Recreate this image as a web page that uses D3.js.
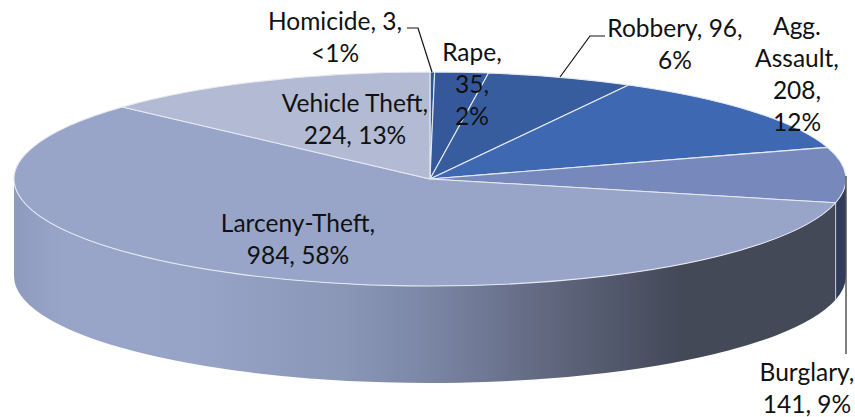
<!DOCTYPE html>
<html><head><meta charset="utf-8">
<script src="https://cdn.jsdelivr.net/npm/d3@7/dist/d3.min.js"></script>
<style>html,body{margin:0;padding:0;background:#fff}svg{display:block}text{font-family:Lato,"Open Sans",sans-serif;fill:#111}</style>
</head><body><svg id="c" width="855" height="417"></svg>
<script>
const categories = ["Homicide","Rape","Robbery","Agg. Assault","Burglary","Larceny-Theft","Vehicle Theft"];
const values = [3,35,96,208,141,984,224];
const labelLines = [["Homicide, 3,","<1%"],["Rape,","35,","2%"],["Robbery, 96,","6%"],["Agg.","Assault,","208,","12%"],["Burglary,","141, 9%"],["Larceny-Theft,","984, 58%"],["Vehicle Theft,","224, 13%"]];
const topColors = ["#2f5597","#35589b","#385d9f","#3e69b2","#7688bc","#98a5c9","#b2bbd3"];
const wallColor = "#303c5a";

const W=855,H=417,cx=430,cy=179,rx=416,ry=107,depth=97,fontSize=24.5,lineH=32;
// label centres (first baseline y) – layout only
const labelPos=[[335,30],[472,61],[675,37],[797,35],[807,381],[298,232],[355,112]];
const leaders=[[[407,28],[418,28],[432,72]],[[605,36],[590,36],[560,77]],[[846,176],[846,354]]];

const svg=d3.select("#c");
const defs=svg.append("defs");
const gr=defs.append("linearGradient").attr("id","wall").attr("gradientUnits","userSpaceOnUse")
  .attr("x1",cx-rx).attr("x2",cx+rx).attr("y1",0).attr("y2",0);
[[0,"#8e9bbe"],[.06,"#98a5c9"],[.22,"#97a4c8"],[.40,"#8a96b6"],[.50,"#7b86a5"],[.65,"#5f667d"],[.80,"#444958"],[1,"#444958"]]
 .forEach(([o,c])=>gr.append("stop").attr("offset",o).attr("stop-color",c));

const arcs=d3.pie().sort(null).value(d=>d).startAngle(0).endAngle(2*Math.PI)(values);
const px=a=>cx+rx*Math.sin(a), py=a=>cy-ry*Math.cos(a);
function sector(a0,a1){
  const p=d3.path();p.moveTo(cx,cy);p.lineTo(px(a0),py(a0));
  return p.toString()+`A${rx},${ry} 0 ${a1-a0>Math.PI?1:0} 1 ${px(a1)},${py(a1)}Z`;
}
function wall(a0,a1){
  a0=Math.max(a0,Math.PI/2);a1=Math.min(a1,3*Math.PI/2);
  if(a1<=a0)return null;
  return `M${px(a0)},${py(a0)}A${rx},${ry} 0 0 1 ${px(a1)},${py(a1)}L${px(a1)},${py(a1)+depth}A${rx},${ry} 0 0 0 ${px(a0)},${py(a0)+depth}Z`;
}
// walls
svg.append("g").selectAll("path").data(arcs.filter(d=>wall(d.startAngle,d.endAngle))).join("path")
  .attr("d",d=>wall(d.startAngle,d.endAngle))
  .attr("fill",d=>d.index===4?wallColor:"url(#wall)");
// seam on wall between Burglary and Larceny
const seam=arcs[4].endAngle;
svg.append("line").attr("x1",px(seam)).attr("x2",px(seam)).attr("y1",py(seam)).attr("y2",py(seam)+depth)
  .attr("stroke","#c9ced9").attr("stroke-width",1);
// top faces
svg.append("g").selectAll("path").data(arcs).join("path")
  .attr("d",d=>sector(d.startAngle,d.endAngle))
  .attr("fill",(d,i)=>topColors[i]).attr("stroke","#e6e9f2").attr("stroke-width",1.1).attr("stroke-linejoin","round");
// leaders
svg.append("g").selectAll("path").data(leaders).join("path")
  .attr("d",d3.line()).attr("fill","none")
  .attr("stroke",(d,i)=>i===2?"#555":"#111").attr("stroke-width",(d,i)=>i===2?1.5:1.2);
// labels
const lab=svg.append("g").selectAll("text").data(categories).join("text")
  .attr("text-anchor","middle").attr("font-size",fontSize)
  .attr("x",(d,i)=>labelPos[i][0]).attr("y",(d,i)=>labelPos[i][1]);
lab.each(function(d,i){
  d3.select(this).selectAll("tspan").data(labelLines[i]).join("tspan")
    .attr("x",labelPos[i][0]).attr("dy",(t,j)=>j?lineH:0).text(t=>t);
});
</script></body></html>
